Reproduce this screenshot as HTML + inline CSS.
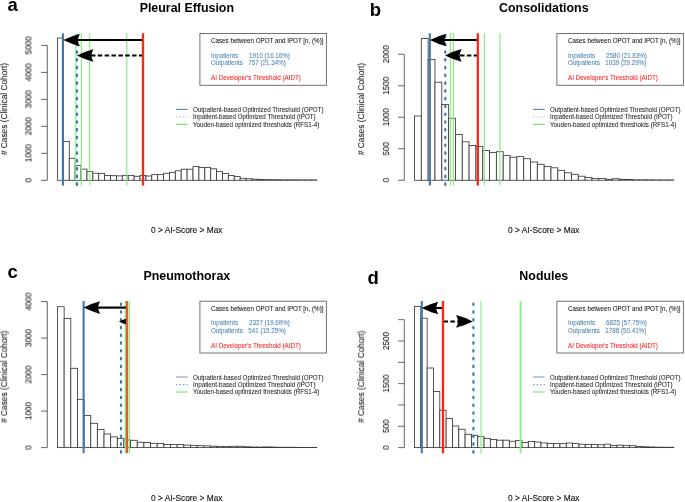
<!DOCTYPE html>
<html><head><meta charset="utf-8"><style>
html,body{margin:0;padding:0;background:#fff;}
body{width:685px;height:502px;overflow:hidden;}
svg{display:block;font-family:"Liberation Sans", sans-serif;filter:blur(0.4px);}
text{will-change:transform;}
</style></head><body>
<svg width="685" height="502" viewBox="0 0 685 502">
<rect x="0" y="0" width="685" height="502" fill="#fff"/>
<text transform="translate(7.40 10.70)" font-size="18.5" text-anchor="start" font-weight="bold" fill="#000">a</text>
<text transform="translate(186.80 11.90)" font-size="12.4" text-anchor="middle" font-weight="bold" fill="#000">Pleural Effusion</text>
<text transform="translate(186.80 233.20)" font-size="8.35" text-anchor="middle" font-weight="normal" fill="#111" stroke="#111" stroke-width="0.12">0 &gt; AI-Score &gt; Max</text>
<text transform="translate(7.50 109.00) rotate(-90) scale(1 1.05)" font-size="8.3" text-anchor="middle" font-weight="normal" fill="#111" stroke="#111" stroke-width="0.05"># Cases (Clinical Cohort)</text>
<line x1="47.3" y1="180.3" x2="47.3" y2="45.40" stroke="#555" stroke-width="0.9"/>
<line x1="41.10" y1="180.30" x2="47.3" y2="180.30" stroke="#555" stroke-width="0.9"/>
<line x1="41.10" y1="153.32" x2="47.3" y2="153.32" stroke="#555" stroke-width="0.9"/>
<line x1="41.10" y1="126.34" x2="47.3" y2="126.34" stroke="#555" stroke-width="0.9"/>
<line x1="41.10" y1="99.36" x2="47.3" y2="99.36" stroke="#555" stroke-width="0.9"/>
<line x1="41.10" y1="72.38" x2="47.3" y2="72.38" stroke="#555" stroke-width="0.9"/>
<line x1="41.10" y1="45.40" x2="47.3" y2="45.40" stroke="#555" stroke-width="0.9"/>
<text transform="translate(31.80 180.30) rotate(-90) scale(1 1.05)" font-size="8.2" text-anchor="middle" font-weight="normal" fill="#111" stroke="#111" stroke-width="0.05">0</text>
<text transform="translate(31.80 153.32) rotate(-90) scale(1 1.05)" font-size="8.2" text-anchor="middle" font-weight="normal" fill="#111" stroke="#111" stroke-width="0.05">1000</text>
<text transform="translate(31.80 126.34) rotate(-90) scale(1 1.05)" font-size="8.2" text-anchor="middle" font-weight="normal" fill="#111" stroke="#111" stroke-width="0.05">2000</text>
<text transform="translate(31.80 99.36) rotate(-90) scale(1 1.05)" font-size="8.2" text-anchor="middle" font-weight="normal" fill="#111" stroke="#111" stroke-width="0.05">3000</text>
<text transform="translate(31.80 72.38) rotate(-90) scale(1 1.05)" font-size="8.2" text-anchor="middle" font-weight="normal" fill="#111" stroke="#111" stroke-width="0.05">4000</text>
<text transform="translate(31.80 45.40) rotate(-90) scale(1 1.05)" font-size="8.2" text-anchor="middle" font-weight="normal" fill="#111" stroke="#111" stroke-width="0.05">5000</text>
<rect x="57.50" y="38.00" width="5.89" height="142.30" fill="#fff" stroke="#3a3a3a" stroke-width="0.85"/>
<rect x="63.39" y="141.40" width="5.89" height="38.90" fill="#fff" stroke="#3a3a3a" stroke-width="0.85"/>
<rect x="69.28" y="158.30" width="5.89" height="22.00" fill="#fff" stroke="#3a3a3a" stroke-width="0.85"/>
<rect x="75.18" y="165.60" width="5.89" height="14.70" fill="#fff" stroke="#3a3a3a" stroke-width="0.85"/>
<rect x="81.07" y="169.10" width="5.89" height="11.20" fill="#fff" stroke="#3a3a3a" stroke-width="0.85"/>
<rect x="86.96" y="171.60" width="5.89" height="8.70" fill="#fff" stroke="#3a3a3a" stroke-width="0.85"/>
<rect x="92.85" y="173.20" width="5.89" height="7.10" fill="#fff" stroke="#3a3a3a" stroke-width="0.85"/>
<rect x="98.74" y="173.40" width="5.89" height="6.90" fill="#fff" stroke="#3a3a3a" stroke-width="0.85"/>
<rect x="104.64" y="175.50" width="5.89" height="4.80" fill="#fff" stroke="#3a3a3a" stroke-width="0.85"/>
<rect x="110.53" y="175.70" width="5.89" height="4.60" fill="#fff" stroke="#3a3a3a" stroke-width="0.85"/>
<rect x="116.42" y="175.90" width="5.89" height="4.40" fill="#fff" stroke="#3a3a3a" stroke-width="0.85"/>
<rect x="122.31" y="175.60" width="5.89" height="4.70" fill="#fff" stroke="#3a3a3a" stroke-width="0.85"/>
<rect x="128.20" y="175.40" width="5.89" height="4.90" fill="#fff" stroke="#3a3a3a" stroke-width="0.85"/>
<rect x="134.10" y="176.30" width="5.89" height="4.00" fill="#fff" stroke="#3a3a3a" stroke-width="0.85"/>
<rect x="139.99" y="175.40" width="5.89" height="4.90" fill="#fff" stroke="#3a3a3a" stroke-width="0.85"/>
<rect x="145.88" y="176.00" width="5.89" height="4.30" fill="#fff" stroke="#3a3a3a" stroke-width="0.85"/>
<rect x="151.77" y="174.60" width="5.89" height="5.70" fill="#fff" stroke="#3a3a3a" stroke-width="0.85"/>
<rect x="157.66" y="174.60" width="5.89" height="5.70" fill="#fff" stroke="#3a3a3a" stroke-width="0.85"/>
<rect x="163.56" y="173.30" width="5.89" height="7.00" fill="#fff" stroke="#3a3a3a" stroke-width="0.85"/>
<rect x="169.45" y="172.30" width="5.89" height="8.00" fill="#fff" stroke="#3a3a3a" stroke-width="0.85"/>
<rect x="175.34" y="170.80" width="5.89" height="9.50" fill="#fff" stroke="#3a3a3a" stroke-width="0.85"/>
<rect x="181.23" y="169.20" width="5.89" height="11.10" fill="#fff" stroke="#3a3a3a" stroke-width="0.85"/>
<rect x="187.12" y="169.20" width="5.89" height="11.10" fill="#fff" stroke="#3a3a3a" stroke-width="0.85"/>
<rect x="193.02" y="166.50" width="5.89" height="13.80" fill="#fff" stroke="#3a3a3a" stroke-width="0.85"/>
<rect x="198.91" y="167.40" width="5.89" height="12.90" fill="#fff" stroke="#3a3a3a" stroke-width="0.85"/>
<rect x="204.80" y="167.40" width="5.89" height="12.90" fill="#fff" stroke="#3a3a3a" stroke-width="0.85"/>
<rect x="210.69" y="168.80" width="5.89" height="11.50" fill="#fff" stroke="#3a3a3a" stroke-width="0.85"/>
<rect x="216.58" y="171.50" width="5.89" height="8.80" fill="#fff" stroke="#3a3a3a" stroke-width="0.85"/>
<rect x="222.48" y="173.50" width="5.89" height="6.80" fill="#fff" stroke="#3a3a3a" stroke-width="0.85"/>
<rect x="228.37" y="175.50" width="5.89" height="4.80" fill="#fff" stroke="#3a3a3a" stroke-width="0.85"/>
<rect x="234.26" y="176.50" width="5.89" height="3.80" fill="#fff" stroke="#3a3a3a" stroke-width="0.85"/>
<rect x="240.15" y="178.30" width="5.89" height="2.00" fill="#fff" stroke="#3a3a3a" stroke-width="0.85"/>
<rect x="246.04" y="178.70" width="5.89" height="1.60" fill="#fff" stroke="#3a3a3a" stroke-width="0.85"/>
<rect x="251.94" y="179.20" width="5.89" height="1.10" fill="#fff" stroke="#3a3a3a" stroke-width="0.85"/>
<rect x="257.83" y="179.40" width="5.89" height="0.90" fill="#fff" stroke="#3a3a3a" stroke-width="0.85"/>
<rect x="263.72" y="179.60" width="5.89" height="0.70" fill="#fff" stroke="#3a3a3a" stroke-width="0.85"/>
<rect x="269.61" y="179.70" width="5.89" height="0.60" fill="#fff" stroke="#3a3a3a" stroke-width="0.85"/>
<rect x="275.50" y="179.70" width="5.89" height="0.60" fill="#fff" stroke="#3a3a3a" stroke-width="0.85"/>
<rect x="281.40" y="179.80" width="5.89" height="0.50" fill="#fff" stroke="#3a3a3a" stroke-width="0.85"/>
<rect x="287.29" y="179.80" width="5.89" height="0.50" fill="#fff" stroke="#3a3a3a" stroke-width="0.85"/>
<rect x="293.18" y="179.80" width="5.89" height="0.50" fill="#fff" stroke="#3a3a3a" stroke-width="0.85"/>
<rect x="299.07" y="179.90" width="5.89" height="0.40" fill="#fff" stroke="#3a3a3a" stroke-width="0.85"/>
<rect x="304.96" y="179.90" width="5.89" height="0.40" fill="#fff" stroke="#3a3a3a" stroke-width="0.85"/>
<rect x="310.86" y="179.90" width="5.89" height="0.40" fill="#fff" stroke="#3a3a3a" stroke-width="0.85"/>
<line x1="75.8" y1="33.3" x2="75.8" y2="185.5" stroke="#8cec84" stroke-width="1.2"/>
<line x1="81.4" y1="33.3" x2="81.4" y2="185.5" stroke="#8cec84" stroke-width="1.2"/>
<line x1="89.7" y1="33.3" x2="89.7" y2="185.5" stroke="#8cec84" stroke-width="1.2"/>
<line x1="126.8" y1="33.3" x2="126.8" y2="185.5" stroke="#8cec84" stroke-width="1.2"/>
<line x1="62.9" y1="33.3" x2="62.9" y2="185.5" stroke="#3f79ab" stroke-width="2.1"/>
<line x1="77.0" y1="33.3" x2="77.0" y2="185.5" stroke="#3f79ab" stroke-width="2.2" stroke-linecap="round" stroke-dasharray="1.5 6.27" stroke-dashoffset="5.27"/>
<line x1="143.0" y1="40.0" x2="76.90" y2="40.0" stroke="#000" stroke-width="2.2"/>
<path d="M63.30,40.00 Q71.60,35.84 79.90,33.70 Q78.00,37.35 77.90,40.00 Q78.00,42.65 79.90,46.30 Q71.60,44.16 63.30,40.00 Z" fill="#000"/>
<line x1="143.4" y1="55.45" x2="90.40" y2="55.45" stroke="#000" stroke-width="2.0" stroke-dasharray="4.5 2.35"/>
<path d="M76.80,55.45 Q85.10,51.29 93.40,49.15 Q91.50,52.80 91.40,55.45 Q91.50,58.10 93.40,61.75 Q85.10,59.61 76.80,55.45 Z" fill="#000"/>
<line x1="143.0" y1="33.3" x2="143.0" y2="185.5" stroke="#ff2412" stroke-width="2.3"/>
<rect x="199.9" y="33.5" width="126.50" height="51.80" fill="#fff" stroke="#6a6a6a" stroke-width="0.95"/>
<text transform="translate(211.00 42.80) scale(1 1.13)" font-size="6.26" text-anchor="start" font-weight="normal" fill="#111" stroke="#111" stroke-width="0.05">Cases between OPOT and IPOT [n, (%)]</text>
<text transform="translate(211.00 57.60) scale(1 1.13)" font-size="6.26" text-anchor="start" font-weight="normal" fill="#4a82b4" stroke="#4a82b4" stroke-width="0.05">Inpatients</text>
<text transform="translate(249.00 57.60) scale(1 1.13)" font-size="6.26" text-anchor="start" font-weight="normal" fill="#4a82b4" stroke="#4a82b4" stroke-width="0.05">1910 (16.16%)</text>
<text transform="translate(211.00 65.00) scale(1 1.13)" font-size="6.26" text-anchor="start" font-weight="normal" fill="#4a82b4" stroke="#4a82b4" stroke-width="0.05">Outpatients</text>
<text transform="translate(248.30 65.00) scale(1 1.13)" font-size="6.26" text-anchor="start" font-weight="normal" fill="#4a82b4" stroke="#4a82b4" stroke-width="0.05">757 (21.34%)</text>
<text transform="translate(211.00 80.10) scale(1 1.13)" font-size="6.26" text-anchor="start" font-weight="normal" fill="#ff1a1a" stroke="#ff1a1a" stroke-width="0.05">AI Developer's Threshold (AIDT)</text>
<line x1="175.9" y1="109.4" x2="187.7" y2="109.4" stroke="#6090c0" stroke-width="1.2"/>
<line x1="175.9" y1="116.9" x2="187.7" y2="116.9" stroke="#a2c2de" stroke-width="1.1" stroke-dasharray="1.2 2.3" stroke-dashoffset="-0.3"/>
<line x1="175.9" y1="124.3" x2="187.7" y2="124.3" stroke="#74e464" stroke-width="1.2"/>
<text transform="translate(193.00 111.80) scale(1 1.13)" font-size="6.26" text-anchor="start" font-weight="normal" fill="#222" stroke="#222" stroke-width="0.05">Outpatient-based Optimized Threshold (OPOT)</text>
<text transform="translate(193.00 119.20) scale(1 1.13)" font-size="6.26" text-anchor="start" font-weight="normal" fill="#222" stroke="#222" stroke-width="0.05">Inpatient-based Optimized Threshold (IPOT)</text>
<text transform="translate(193.00 126.70) scale(1 1.13)" font-size="6.26" text-anchor="start" font-weight="normal" fill="#222" stroke="#222" stroke-width="0.05">Youden-based optimized thresholds (RFS1-4)</text>
<text transform="translate(369.80 16.00)" font-size="18.5" text-anchor="start" font-weight="bold" fill="#000">b</text>
<text transform="translate(543.80 11.90)" font-size="12.4" text-anchor="middle" font-weight="bold" fill="#000">Consolidations</text>
<text transform="translate(543.80 233.20)" font-size="8.35" text-anchor="middle" font-weight="normal" fill="#111" stroke="#111" stroke-width="0.12">0 &gt; AI-Score &gt; Max</text>
<text transform="translate(364.50 109.00) rotate(-90) scale(1 1.05)" font-size="8.3" text-anchor="middle" font-weight="normal" fill="#111" stroke="#111" stroke-width="0.05"># Cases (Clinical Cohort)</text>
<line x1="404.3" y1="180.25" x2="404.3" y2="54.25" stroke="#555" stroke-width="0.9"/>
<line x1="398.10" y1="180.25" x2="404.3" y2="180.25" stroke="#555" stroke-width="0.9"/>
<line x1="398.10" y1="148.75" x2="404.3" y2="148.75" stroke="#555" stroke-width="0.9"/>
<line x1="398.10" y1="117.25" x2="404.3" y2="117.25" stroke="#555" stroke-width="0.9"/>
<line x1="398.10" y1="85.75" x2="404.3" y2="85.75" stroke="#555" stroke-width="0.9"/>
<line x1="398.10" y1="54.25" x2="404.3" y2="54.25" stroke="#555" stroke-width="0.9"/>
<text transform="translate(389.40 180.25) rotate(-90) scale(1 1.05)" font-size="8.2" text-anchor="middle" font-weight="normal" fill="#111" stroke="#111" stroke-width="0.05">0</text>
<text transform="translate(389.40 148.75) rotate(-90) scale(1 1.05)" font-size="8.2" text-anchor="middle" font-weight="normal" fill="#111" stroke="#111" stroke-width="0.05">500</text>
<text transform="translate(389.40 117.25) rotate(-90) scale(1 1.05)" font-size="8.2" text-anchor="middle" font-weight="normal" fill="#111" stroke="#111" stroke-width="0.05">1000</text>
<text transform="translate(389.40 85.75) rotate(-90) scale(1 1.05)" font-size="8.2" text-anchor="middle" font-weight="normal" fill="#111" stroke="#111" stroke-width="0.05">1500</text>
<text transform="translate(389.40 54.25) rotate(-90) scale(1 1.05)" font-size="8.2" text-anchor="middle" font-weight="normal" fill="#111" stroke="#111" stroke-width="0.05">2000</text>
<rect x="414.50" y="116.00" width="6.82" height="64.25" fill="#fff" stroke="#3a3a3a" stroke-width="0.85"/>
<rect x="421.32" y="38.50" width="6.82" height="141.75" fill="#fff" stroke="#3a3a3a" stroke-width="0.85"/>
<rect x="428.15" y="59.40" width="6.82" height="120.85" fill="#fff" stroke="#3a3a3a" stroke-width="0.85"/>
<rect x="434.97" y="82.20" width="6.82" height="98.05" fill="#fff" stroke="#3a3a3a" stroke-width="0.85"/>
<rect x="441.80" y="104.50" width="6.82" height="75.75" fill="#fff" stroke="#3a3a3a" stroke-width="0.85"/>
<rect x="448.62" y="118.30" width="6.82" height="61.95" fill="#fff" stroke="#3a3a3a" stroke-width="0.85"/>
<rect x="455.44" y="134.40" width="6.82" height="45.85" fill="#fff" stroke="#3a3a3a" stroke-width="0.85"/>
<rect x="462.27" y="141.80" width="6.82" height="38.45" fill="#fff" stroke="#3a3a3a" stroke-width="0.85"/>
<rect x="469.09" y="145.50" width="6.82" height="34.75" fill="#fff" stroke="#3a3a3a" stroke-width="0.85"/>
<rect x="475.92" y="146.40" width="6.82" height="33.85" fill="#fff" stroke="#3a3a3a" stroke-width="0.85"/>
<rect x="482.74" y="150.50" width="6.82" height="29.75" fill="#fff" stroke="#3a3a3a" stroke-width="0.85"/>
<rect x="489.56" y="152.40" width="6.82" height="27.85" fill="#fff" stroke="#3a3a3a" stroke-width="0.85"/>
<rect x="496.39" y="151.70" width="6.82" height="28.55" fill="#fff" stroke="#3a3a3a" stroke-width="0.85"/>
<rect x="503.21" y="155.40" width="6.82" height="24.85" fill="#fff" stroke="#3a3a3a" stroke-width="0.85"/>
<rect x="510.04" y="157.20" width="6.82" height="23.05" fill="#fff" stroke="#3a3a3a" stroke-width="0.85"/>
<rect x="516.86" y="156.60" width="6.82" height="23.65" fill="#fff" stroke="#3a3a3a" stroke-width="0.85"/>
<rect x="523.68" y="158.70" width="6.82" height="21.55" fill="#fff" stroke="#3a3a3a" stroke-width="0.85"/>
<rect x="530.51" y="162.00" width="6.82" height="18.25" fill="#fff" stroke="#3a3a3a" stroke-width="0.85"/>
<rect x="537.33" y="164.30" width="6.82" height="15.95" fill="#fff" stroke="#3a3a3a" stroke-width="0.85"/>
<rect x="544.16" y="166.40" width="6.82" height="13.85" fill="#fff" stroke="#3a3a3a" stroke-width="0.85"/>
<rect x="550.98" y="167.80" width="6.82" height="12.45" fill="#fff" stroke="#3a3a3a" stroke-width="0.85"/>
<rect x="557.80" y="170.30" width="6.82" height="9.95" fill="#fff" stroke="#3a3a3a" stroke-width="0.85"/>
<rect x="564.63" y="172.80" width="6.82" height="7.45" fill="#fff" stroke="#3a3a3a" stroke-width="0.85"/>
<rect x="571.45" y="174.30" width="6.82" height="5.95" fill="#fff" stroke="#3a3a3a" stroke-width="0.85"/>
<rect x="578.28" y="176.20" width="6.82" height="4.05" fill="#fff" stroke="#3a3a3a" stroke-width="0.85"/>
<rect x="585.10" y="177.40" width="6.82" height="2.85" fill="#fff" stroke="#3a3a3a" stroke-width="0.85"/>
<rect x="591.92" y="178.40" width="6.82" height="1.85" fill="#fff" stroke="#3a3a3a" stroke-width="0.85"/>
<rect x="598.75" y="178.40" width="6.82" height="1.85" fill="#fff" stroke="#3a3a3a" stroke-width="0.85"/>
<rect x="605.57" y="179.30" width="6.82" height="0.95" fill="#fff" stroke="#3a3a3a" stroke-width="0.85"/>
<rect x="612.40" y="178.70" width="6.82" height="1.55" fill="#fff" stroke="#3a3a3a" stroke-width="0.85"/>
<rect x="619.22" y="179.30" width="6.82" height="0.95" fill="#fff" stroke="#3a3a3a" stroke-width="0.85"/>
<rect x="626.04" y="179.50" width="6.82" height="0.75" fill="#fff" stroke="#3a3a3a" stroke-width="0.85"/>
<rect x="632.87" y="179.80" width="6.82" height="0.45" fill="#fff" stroke="#3a3a3a" stroke-width="0.85"/>
<rect x="639.69" y="179.80" width="6.82" height="0.45" fill="#fff" stroke="#3a3a3a" stroke-width="0.85"/>
<rect x="646.52" y="179.80" width="6.82" height="0.45" fill="#fff" stroke="#3a3a3a" stroke-width="0.85"/>
<rect x="653.34" y="179.90" width="6.82" height="0.35" fill="#fff" stroke="#3a3a3a" stroke-width="0.85"/>
<rect x="660.16" y="179.90" width="6.82" height="0.35" fill="#fff" stroke="#3a3a3a" stroke-width="0.85"/>
<rect x="666.99" y="179.90" width="6.82" height="0.35" fill="#fff" stroke="#3a3a3a" stroke-width="0.85"/>
<line x1="450.3" y1="33.3" x2="450.3" y2="185.5" stroke="#8cec84" stroke-width="1.2"/>
<line x1="453.4" y1="33.3" x2="453.4" y2="185.5" stroke="#8cec84" stroke-width="1.2"/>
<line x1="484.4" y1="33.3" x2="484.4" y2="185.5" stroke="#8cec84" stroke-width="1.2"/>
<line x1="499.9" y1="33.3" x2="499.9" y2="185.5" stroke="#8cec84" stroke-width="1.2"/>
<line x1="429.8" y1="33.3" x2="429.8" y2="185.5" stroke="#3f79ab" stroke-width="2.1"/>
<line x1="445.3" y1="33.3" x2="445.3" y2="185.5" stroke="#3f79ab" stroke-width="2.2" stroke-linecap="round" stroke-dasharray="1.5 6.27" stroke-dashoffset="5.27"/>
<line x1="477.8" y1="40.0" x2="443.40" y2="40.0" stroke="#000" stroke-width="2.2"/>
<path d="M429.80,40.00 Q438.10,35.84 446.40,33.70 Q444.50,37.35 444.40,40.00 Q444.50,42.65 446.40,46.30 Q438.10,44.16 429.80,40.00 Z" fill="#000"/>
<line x1="478.2" y1="55.4" x2="458.60" y2="55.4" stroke="#000" stroke-width="2.0" stroke-dasharray="4.5 2.35"/>
<path d="M445.00,55.40 Q453.30,51.24 461.60,49.10 Q459.70,52.75 459.60,55.40 Q459.70,58.05 461.60,61.70 Q453.30,59.56 445.00,55.40 Z" fill="#000"/>
<line x1="477.8" y1="33.3" x2="477.8" y2="185.5" stroke="#ff2412" stroke-width="2.3"/>
<rect x="556.9" y="33.5" width="126.50" height="51.80" fill="#fff" stroke="#6a6a6a" stroke-width="0.95"/>
<text transform="translate(568.00 42.80) scale(1 1.13)" font-size="6.26" text-anchor="start" font-weight="normal" fill="#111" stroke="#111" stroke-width="0.05">Cases between OPOT and IPOT [n, (%)]</text>
<text transform="translate(568.00 57.60) scale(1 1.13)" font-size="6.26" text-anchor="start" font-weight="normal" fill="#4a82b4" stroke="#4a82b4" stroke-width="0.05">Inpatients</text>
<text transform="translate(606.00 57.60) scale(1 1.13)" font-size="6.26" text-anchor="start" font-weight="normal" fill="#4a82b4" stroke="#4a82b4" stroke-width="0.05">2580 (21.83%)</text>
<text transform="translate(568.00 65.00) scale(1 1.13)" font-size="6.26" text-anchor="start" font-weight="normal" fill="#4a82b4" stroke="#4a82b4" stroke-width="0.05">Outpatients</text>
<text transform="translate(605.30 65.00) scale(1 1.13)" font-size="6.26" text-anchor="start" font-weight="normal" fill="#4a82b4" stroke="#4a82b4" stroke-width="0.05">1039 (29.29%)</text>
<text transform="translate(568.00 80.10) scale(1 1.13)" font-size="6.26" text-anchor="start" font-weight="normal" fill="#ff1a1a" stroke="#ff1a1a" stroke-width="0.05">AI Developer's Threshold (AIDT)</text>
<line x1="532.9" y1="109.4" x2="544.7" y2="109.4" stroke="#6090c0" stroke-width="1.2"/>
<line x1="532.9" y1="116.9" x2="544.7" y2="116.9" stroke="#a2c2de" stroke-width="1.1" stroke-dasharray="1.2 2.3" stroke-dashoffset="-0.3"/>
<line x1="532.9" y1="124.3" x2="544.7" y2="124.3" stroke="#74e464" stroke-width="1.2"/>
<text transform="translate(550.00 111.80) scale(1 1.13)" font-size="6.26" text-anchor="start" font-weight="normal" fill="#222" stroke="#222" stroke-width="0.05">Outpatient-based Optimized Threshold (OPOT)</text>
<text transform="translate(550.00 119.20) scale(1 1.13)" font-size="6.26" text-anchor="start" font-weight="normal" fill="#222" stroke="#222" stroke-width="0.05">Inpatient-based Optimized Threshold (IPOT)</text>
<text transform="translate(550.00 126.70) scale(1 1.13)" font-size="6.26" text-anchor="start" font-weight="normal" fill="#222" stroke="#222" stroke-width="0.05">Youden-based optimized thresholds (RFS1-4)</text>
<text transform="translate(7.40 278.40)" font-size="18.5" text-anchor="start" font-weight="bold" fill="#000">c</text>
<text transform="translate(186.80 279.60)" font-size="12.4" text-anchor="middle" font-weight="bold" fill="#000">Pneumothorax</text>
<text transform="translate(186.80 500.90)" font-size="8.35" text-anchor="middle" font-weight="normal" fill="#111" stroke="#111" stroke-width="0.12">0 &gt; AI-Score &gt; Max</text>
<text transform="translate(7.50 376.70) rotate(-90) scale(1 1.05)" font-size="8.3" text-anchor="middle" font-weight="normal" fill="#111" stroke="#111" stroke-width="0.05"># Cases (Clinical Cohort)</text>
<line x1="47.3" y1="447.6" x2="47.3" y2="301.60" stroke="#555" stroke-width="0.9"/>
<line x1="41.10" y1="447.60" x2="47.3" y2="447.60" stroke="#555" stroke-width="0.9"/>
<line x1="41.10" y1="411.10" x2="47.3" y2="411.10" stroke="#555" stroke-width="0.9"/>
<line x1="41.10" y1="374.60" x2="47.3" y2="374.60" stroke="#555" stroke-width="0.9"/>
<line x1="41.10" y1="338.10" x2="47.3" y2="338.10" stroke="#555" stroke-width="0.9"/>
<line x1="41.10" y1="301.60" x2="47.3" y2="301.60" stroke="#555" stroke-width="0.9"/>
<text transform="translate(31.80 447.60) rotate(-90) scale(1 1.05)" font-size="8.2" text-anchor="middle" font-weight="normal" fill="#111" stroke="#111" stroke-width="0.05">0</text>
<text transform="translate(31.80 411.10) rotate(-90) scale(1 1.05)" font-size="8.2" text-anchor="middle" font-weight="normal" fill="#111" stroke="#111" stroke-width="0.05">1000</text>
<text transform="translate(31.80 374.60) rotate(-90) scale(1 1.05)" font-size="8.2" text-anchor="middle" font-weight="normal" fill="#111" stroke="#111" stroke-width="0.05">2000</text>
<text transform="translate(31.80 338.10) rotate(-90) scale(1 1.05)" font-size="8.2" text-anchor="middle" font-weight="normal" fill="#111" stroke="#111" stroke-width="0.05">3000</text>
<text transform="translate(31.80 301.60) rotate(-90) scale(1 1.05)" font-size="8.2" text-anchor="middle" font-weight="normal" fill="#111" stroke="#111" stroke-width="0.05">4000</text>
<rect x="57.50" y="306.70" width="6.65" height="140.90" fill="#fff" stroke="#3a3a3a" stroke-width="0.85"/>
<rect x="64.15" y="318.50" width="6.65" height="129.10" fill="#fff" stroke="#3a3a3a" stroke-width="0.85"/>
<rect x="70.79" y="368.30" width="6.65" height="79.30" fill="#fff" stroke="#3a3a3a" stroke-width="0.85"/>
<rect x="77.44" y="399.30" width="6.65" height="48.30" fill="#fff" stroke="#3a3a3a" stroke-width="0.85"/>
<rect x="84.09" y="415.40" width="6.65" height="32.20" fill="#fff" stroke="#3a3a3a" stroke-width="0.85"/>
<rect x="90.73" y="423.30" width="6.65" height="24.30" fill="#fff" stroke="#3a3a3a" stroke-width="0.85"/>
<rect x="97.38" y="429.50" width="6.65" height="18.10" fill="#fff" stroke="#3a3a3a" stroke-width="0.85"/>
<rect x="104.03" y="434.00" width="6.65" height="13.60" fill="#fff" stroke="#3a3a3a" stroke-width="0.85"/>
<rect x="110.68" y="436.90" width="6.65" height="10.70" fill="#fff" stroke="#3a3a3a" stroke-width="0.85"/>
<rect x="117.32" y="438.40" width="6.65" height="9.20" fill="#fff" stroke="#3a3a3a" stroke-width="0.85"/>
<rect x="123.97" y="440.00" width="6.65" height="7.60" fill="#fff" stroke="#3a3a3a" stroke-width="0.85"/>
<rect x="130.62" y="440.30" width="6.65" height="7.30" fill="#fff" stroke="#3a3a3a" stroke-width="0.85"/>
<rect x="137.26" y="442.30" width="6.65" height="5.30" fill="#fff" stroke="#3a3a3a" stroke-width="0.85"/>
<rect x="143.91" y="442.50" width="6.65" height="5.10" fill="#fff" stroke="#3a3a3a" stroke-width="0.85"/>
<rect x="150.56" y="443.30" width="6.65" height="4.30" fill="#fff" stroke="#3a3a3a" stroke-width="0.85"/>
<rect x="157.20" y="443.50" width="6.65" height="4.10" fill="#fff" stroke="#3a3a3a" stroke-width="0.85"/>
<rect x="163.85" y="444.50" width="6.65" height="3.10" fill="#fff" stroke="#3a3a3a" stroke-width="0.85"/>
<rect x="170.50" y="444.50" width="6.65" height="3.10" fill="#fff" stroke="#3a3a3a" stroke-width="0.85"/>
<rect x="177.15" y="444.60" width="6.65" height="3.00" fill="#fff" stroke="#3a3a3a" stroke-width="0.85"/>
<rect x="183.79" y="445.10" width="6.65" height="2.50" fill="#fff" stroke="#3a3a3a" stroke-width="0.85"/>
<rect x="190.44" y="445.40" width="6.65" height="2.20" fill="#fff" stroke="#3a3a3a" stroke-width="0.85"/>
<rect x="197.09" y="445.70" width="6.65" height="1.90" fill="#fff" stroke="#3a3a3a" stroke-width="0.85"/>
<rect x="203.73" y="445.90" width="6.65" height="1.70" fill="#fff" stroke="#3a3a3a" stroke-width="0.85"/>
<rect x="210.38" y="446.20" width="6.65" height="1.40" fill="#fff" stroke="#3a3a3a" stroke-width="0.85"/>
<rect x="217.03" y="446.40" width="6.65" height="1.20" fill="#fff" stroke="#3a3a3a" stroke-width="0.85"/>
<rect x="223.68" y="446.60" width="6.65" height="1.00" fill="#fff" stroke="#3a3a3a" stroke-width="0.85"/>
<rect x="230.32" y="446.30" width="6.65" height="1.30" fill="#fff" stroke="#3a3a3a" stroke-width="0.85"/>
<rect x="236.97" y="446.30" width="6.65" height="1.30" fill="#fff" stroke="#3a3a3a" stroke-width="0.85"/>
<rect x="243.62" y="446.80" width="6.65" height="0.80" fill="#fff" stroke="#3a3a3a" stroke-width="0.85"/>
<rect x="250.26" y="447.00" width="6.65" height="0.60" fill="#fff" stroke="#3a3a3a" stroke-width="0.85"/>
<rect x="256.91" y="447.10" width="6.65" height="0.50" fill="#fff" stroke="#3a3a3a" stroke-width="0.85"/>
<rect x="263.56" y="446.90" width="6.65" height="0.70" fill="#fff" stroke="#3a3a3a" stroke-width="0.85"/>
<rect x="270.20" y="447.10" width="6.65" height="0.50" fill="#fff" stroke="#3a3a3a" stroke-width="0.85"/>
<rect x="276.85" y="447.30" width="6.65" height="0.30" fill="#fff" stroke="#3a3a3a" stroke-width="0.85"/>
<rect x="283.50" y="447.30" width="6.65" height="0.30" fill="#fff" stroke="#3a3a3a" stroke-width="0.85"/>
<rect x="290.14" y="447.30" width="6.65" height="0.30" fill="#fff" stroke="#3a3a3a" stroke-width="0.85"/>
<rect x="296.79" y="447.40" width="6.65" height="0.20" fill="#fff" stroke="#3a3a3a" stroke-width="0.85"/>
<rect x="303.44" y="447.40" width="6.65" height="0.20" fill="#fff" stroke="#3a3a3a" stroke-width="0.85"/>
<rect x="310.09" y="447.40" width="6.65" height="0.20" fill="#fff" stroke="#3a3a3a" stroke-width="0.85"/>
<line x1="125.3" y1="301.0" x2="125.3" y2="453.2" stroke="#8cec84" stroke-width="1.2"/>
<line x1="129.4" y1="301.0" x2="129.4" y2="453.2" stroke="#8cec84" stroke-width="1.2"/>
<line x1="83.6" y1="301.0" x2="83.6" y2="453.2" stroke="#3f79ab" stroke-width="2.1"/>
<line x1="121.0" y1="301.0" x2="121.0" y2="453.2" stroke="#3f79ab" stroke-width="2.2" stroke-linecap="round" stroke-dasharray="1.5 6.27" stroke-dashoffset="5.27"/>
<line x1="127.0" y1="307.6" x2="97.10" y2="307.6" stroke="#000" stroke-width="2.2"/>
<path d="M83.50,307.60 Q91.80,303.44 100.10,301.30 Q98.20,304.95 98.10,307.60 Q98.20,310.25 100.10,313.90 Q91.80,311.76 83.50,307.60 Z" fill="#000"/>
<path d="M118.90,321.50 Q123.10,319.32 127.30,318.20 Q126.10,320.11 126.00,321.50 Q126.10,322.89 127.30,324.80 Q123.10,323.68 118.90,321.50 Z" fill="#000"/>
<line x1="127.0" y1="301.0" x2="127.0" y2="453.2" stroke="#f0522a" stroke-width="2.3"/>
<rect x="199.9" y="301.2" width="126.50" height="51.80" fill="#fff" stroke="#6a6a6a" stroke-width="0.95"/>
<text transform="translate(211.00 310.50) scale(1 1.13)" font-size="6.26" text-anchor="start" font-weight="normal" fill="#111" stroke="#111" stroke-width="0.05">Cases between OPOT and IPOT [n, (%)]</text>
<text transform="translate(211.00 325.30) scale(1 1.13)" font-size="6.26" text-anchor="start" font-weight="normal" fill="#4a82b4" stroke="#4a82b4" stroke-width="0.05">Inpatients</text>
<text transform="translate(249.00 325.30) scale(1 1.13)" font-size="6.26" text-anchor="start" font-weight="normal" fill="#4a82b4" stroke="#4a82b4" stroke-width="0.05">2327 (19.69%)</text>
<text transform="translate(211.00 332.70) scale(1 1.13)" font-size="6.26" text-anchor="start" font-weight="normal" fill="#4a82b4" stroke="#4a82b4" stroke-width="0.05">Outpatients</text>
<text transform="translate(248.30 332.70) scale(1 1.13)" font-size="6.26" text-anchor="start" font-weight="normal" fill="#4a82b4" stroke="#4a82b4" stroke-width="0.05">541 (15.25%)</text>
<text transform="translate(211.00 347.80) scale(1 1.13)" font-size="6.26" text-anchor="start" font-weight="normal" fill="#ff1a1a" stroke="#ff1a1a" stroke-width="0.05">AI Developer's Threshold (AIDT)</text>
<line x1="175.9" y1="377.1" x2="187.7" y2="377.1" stroke="#b2c8dd" stroke-width="1.9"/>
<line x1="175.9" y1="384.6" x2="187.7" y2="384.6" stroke="#5a8cbc" stroke-width="1.1" stroke-dasharray="1.2 2.3" stroke-dashoffset="-0.3"/>
<line x1="175.9" y1="392.0" x2="187.7" y2="392.0" stroke="#b0f0a6" stroke-width="1.9"/>
<text transform="translate(193.00 379.50) scale(1 1.13)" font-size="6.26" text-anchor="start" font-weight="normal" fill="#222" stroke="#222" stroke-width="0.05">Outpatient-based Optimized Threshold (OPOT)</text>
<text transform="translate(193.00 386.90) scale(1 1.13)" font-size="6.26" text-anchor="start" font-weight="normal" fill="#222" stroke="#222" stroke-width="0.05">Inpatient-based Optimized Threshold (IPOT)</text>
<text transform="translate(193.00 394.40) scale(1 1.13)" font-size="6.26" text-anchor="start" font-weight="normal" fill="#222" stroke="#222" stroke-width="0.05">Youden-based optimized thresholds (RFS1-4)</text>
<text transform="translate(367.60 283.80)" font-size="18.5" text-anchor="start" font-weight="bold" fill="#000">d</text>
<text transform="translate(543.80 279.60)" font-size="12.4" text-anchor="middle" font-weight="bold" fill="#000">Nodules</text>
<text transform="translate(543.80 500.90)" font-size="8.35" text-anchor="middle" font-weight="normal" fill="#111" stroke="#111" stroke-width="0.12">0 &gt; AI-Score &gt; Max</text>
<text transform="translate(364.50 376.70) rotate(-90) scale(1 1.05)" font-size="8.3" text-anchor="middle" font-weight="normal" fill="#111" stroke="#111" stroke-width="0.05"># Cases (Clinical Cohort)</text>
<line x1="404.3" y1="447.6" x2="404.3" y2="319.65" stroke="#555" stroke-width="0.9"/>
<line x1="398.10" y1="447.60" x2="404.3" y2="447.60" stroke="#555" stroke-width="0.9"/>
<line x1="398.10" y1="426.28" x2="404.3" y2="426.28" stroke="#555" stroke-width="0.9"/>
<line x1="398.10" y1="404.95" x2="404.3" y2="404.95" stroke="#555" stroke-width="0.9"/>
<line x1="398.10" y1="383.62" x2="404.3" y2="383.62" stroke="#555" stroke-width="0.9"/>
<line x1="398.10" y1="362.30" x2="404.3" y2="362.30" stroke="#555" stroke-width="0.9"/>
<line x1="398.10" y1="340.98" x2="404.3" y2="340.98" stroke="#555" stroke-width="0.9"/>
<line x1="398.10" y1="319.65" x2="404.3" y2="319.65" stroke="#555" stroke-width="0.9"/>
<text transform="translate(389.40 447.60) rotate(-90) scale(1 1.05)" font-size="8.2" text-anchor="middle" font-weight="normal" fill="#111" stroke="#111" stroke-width="0.05">0</text>
<text transform="translate(389.40 426.28) rotate(-90) scale(1 1.05)" font-size="8.2" text-anchor="middle" font-weight="normal" fill="#111" stroke="#111" stroke-width="0.05">500</text>
<text transform="translate(389.40 383.62) rotate(-90) scale(1 1.05)" font-size="8.2" text-anchor="middle" font-weight="normal" fill="#111" stroke="#111" stroke-width="0.05">1500</text>
<text transform="translate(389.40 340.98) rotate(-90) scale(1 1.05)" font-size="8.2" text-anchor="middle" font-weight="normal" fill="#111" stroke="#111" stroke-width="0.05">2500</text>
<rect x="414.50" y="306.40" width="6.32" height="141.20" fill="#fff" stroke="#3a3a3a" stroke-width="0.85"/>
<rect x="420.82" y="318.20" width="6.32" height="129.40" fill="#fff" stroke="#3a3a3a" stroke-width="0.85"/>
<rect x="427.15" y="368.00" width="6.32" height="79.60" fill="#fff" stroke="#3a3a3a" stroke-width="0.85"/>
<rect x="433.47" y="391.50" width="6.32" height="56.10" fill="#fff" stroke="#3a3a3a" stroke-width="0.85"/>
<rect x="439.80" y="410.25" width="6.32" height="37.35" fill="#fff" stroke="#3a3a3a" stroke-width="0.85"/>
<rect x="446.12" y="418.50" width="6.32" height="29.10" fill="#fff" stroke="#3a3a3a" stroke-width="0.85"/>
<rect x="452.44" y="426.00" width="6.32" height="21.60" fill="#fff" stroke="#3a3a3a" stroke-width="0.85"/>
<rect x="458.77" y="429.25" width="6.32" height="18.35" fill="#fff" stroke="#3a3a3a" stroke-width="0.85"/>
<rect x="465.09" y="434.30" width="6.32" height="13.30" fill="#fff" stroke="#3a3a3a" stroke-width="0.85"/>
<rect x="471.42" y="435.30" width="6.32" height="12.30" fill="#fff" stroke="#3a3a3a" stroke-width="0.85"/>
<rect x="477.74" y="436.70" width="6.32" height="10.90" fill="#fff" stroke="#3a3a3a" stroke-width="0.85"/>
<rect x="484.06" y="438.40" width="6.32" height="9.20" fill="#fff" stroke="#3a3a3a" stroke-width="0.85"/>
<rect x="490.39" y="439.50" width="6.32" height="8.10" fill="#fff" stroke="#3a3a3a" stroke-width="0.85"/>
<rect x="496.71" y="440.20" width="6.32" height="7.40" fill="#fff" stroke="#3a3a3a" stroke-width="0.85"/>
<rect x="503.04" y="440.20" width="6.32" height="7.40" fill="#fff" stroke="#3a3a3a" stroke-width="0.85"/>
<rect x="509.36" y="441.30" width="6.32" height="6.30" fill="#fff" stroke="#3a3a3a" stroke-width="0.85"/>
<rect x="515.68" y="440.40" width="6.32" height="7.20" fill="#fff" stroke="#3a3a3a" stroke-width="0.85"/>
<rect x="522.01" y="442.40" width="6.32" height="5.20" fill="#fff" stroke="#3a3a3a" stroke-width="0.85"/>
<rect x="528.33" y="441.40" width="6.32" height="6.20" fill="#fff" stroke="#3a3a3a" stroke-width="0.85"/>
<rect x="534.66" y="442.00" width="6.32" height="5.60" fill="#fff" stroke="#3a3a3a" stroke-width="0.85"/>
<rect x="540.98" y="442.90" width="6.32" height="4.70" fill="#fff" stroke="#3a3a3a" stroke-width="0.85"/>
<rect x="547.30" y="443.40" width="6.32" height="4.20" fill="#fff" stroke="#3a3a3a" stroke-width="0.85"/>
<rect x="553.63" y="443.60" width="6.32" height="4.00" fill="#fff" stroke="#3a3a3a" stroke-width="0.85"/>
<rect x="559.95" y="443.60" width="6.32" height="4.00" fill="#fff" stroke="#3a3a3a" stroke-width="0.85"/>
<rect x="566.28" y="443.00" width="6.32" height="4.60" fill="#fff" stroke="#3a3a3a" stroke-width="0.85"/>
<rect x="572.60" y="443.60" width="6.32" height="4.00" fill="#fff" stroke="#3a3a3a" stroke-width="0.85"/>
<rect x="578.92" y="444.20" width="6.32" height="3.40" fill="#fff" stroke="#3a3a3a" stroke-width="0.85"/>
<rect x="585.25" y="444.40" width="6.32" height="3.20" fill="#fff" stroke="#3a3a3a" stroke-width="0.85"/>
<rect x="591.57" y="444.40" width="6.32" height="3.20" fill="#fff" stroke="#3a3a3a" stroke-width="0.85"/>
<rect x="597.90" y="444.80" width="6.32" height="2.80" fill="#fff" stroke="#3a3a3a" stroke-width="0.85"/>
<rect x="604.22" y="444.20" width="6.32" height="3.40" fill="#fff" stroke="#3a3a3a" stroke-width="0.85"/>
<rect x="610.54" y="445.40" width="6.32" height="2.20" fill="#fff" stroke="#3a3a3a" stroke-width="0.85"/>
<rect x="616.87" y="445.20" width="6.32" height="2.40" fill="#fff" stroke="#3a3a3a" stroke-width="0.85"/>
<rect x="623.19" y="445.40" width="6.32" height="2.20" fill="#fff" stroke="#3a3a3a" stroke-width="0.85"/>
<rect x="629.52" y="445.70" width="6.32" height="1.90" fill="#fff" stroke="#3a3a3a" stroke-width="0.85"/>
<rect x="635.84" y="446.50" width="6.32" height="1.10" fill="#fff" stroke="#3a3a3a" stroke-width="0.85"/>
<rect x="642.16" y="446.80" width="6.32" height="0.80" fill="#fff" stroke="#3a3a3a" stroke-width="0.85"/>
<rect x="648.49" y="447.00" width="6.32" height="0.60" fill="#fff" stroke="#3a3a3a" stroke-width="0.85"/>
<rect x="654.81" y="447.20" width="6.32" height="0.40" fill="#fff" stroke="#3a3a3a" stroke-width="0.85"/>
<rect x="661.14" y="447.30" width="6.32" height="0.30" fill="#fff" stroke="#3a3a3a" stroke-width="0.85"/>
<rect x="667.46" y="447.30" width="6.32" height="0.30" fill="#fff" stroke="#3a3a3a" stroke-width="0.85"/>
<line x1="481.0" y1="301.0" x2="481.0" y2="453.2" stroke="#8cec84" stroke-width="1.2"/>
<line x1="520.2" y1="301.0" x2="520.2" y2="453.2" stroke="#8cec84" stroke-width="1.2"/>
<line x1="521.0" y1="301.0" x2="521.0" y2="453.2" stroke="#8cec84" stroke-width="1.2"/>
<line x1="421.8" y1="301.0" x2="421.8" y2="453.2" stroke="#3f79ab" stroke-width="2.1"/>
<line x1="473.4" y1="301.0" x2="473.4" y2="453.2" stroke="#3f79ab" stroke-width="2.2" stroke-linecap="round" stroke-dasharray="1.5 6.27" stroke-dashoffset="5.27"/>
<line x1="443.0" y1="308.0" x2="435.20" y2="308.0" stroke="#000" stroke-width="2.2"/>
<path d="M421.60,308.00 Q429.90,303.84 438.20,301.70 Q436.30,305.35 436.20,308.00 Q436.30,310.65 438.20,314.30 Q429.90,312.16 421.60,308.00 Z" fill="#000"/>
<line x1="443.5" y1="321.4" x2="459.10" y2="321.4" stroke="#000" stroke-width="2.0" stroke-dasharray="4.5 2.35"/>
<path d="M472.70,321.40 Q464.40,317.24 456.10,315.10 Q458.00,318.75 458.10,321.40 Q458.00,324.05 456.10,327.70 Q464.40,325.56 472.70,321.40 Z" fill="#000"/>
<line x1="443.0" y1="301.0" x2="443.0" y2="453.2" stroke="#ff2412" stroke-width="2.3"/>
<rect x="556.9" y="301.2" width="126.50" height="51.80" fill="#fff" stroke="#6a6a6a" stroke-width="0.95"/>
<text transform="translate(568.00 310.50) scale(1 1.13)" font-size="6.26" text-anchor="start" font-weight="normal" fill="#111" stroke="#111" stroke-width="0.05">Cases between OPOT and IPOT [n, (%)]</text>
<text transform="translate(568.00 325.30) scale(1 1.13)" font-size="6.26" text-anchor="start" font-weight="normal" fill="#4a82b4" stroke="#4a82b4" stroke-width="0.05">Inpatients</text>
<text transform="translate(606.00 325.30) scale(1 1.13)" font-size="6.26" text-anchor="start" font-weight="normal" fill="#4a82b4" stroke="#4a82b4" stroke-width="0.05">6825 (57.75%)</text>
<text transform="translate(568.00 332.70) scale(1 1.13)" font-size="6.26" text-anchor="start" font-weight="normal" fill="#4a82b4" stroke="#4a82b4" stroke-width="0.05">Outpatients</text>
<text transform="translate(605.30 332.70) scale(1 1.13)" font-size="6.26" text-anchor="start" font-weight="normal" fill="#4a82b4" stroke="#4a82b4" stroke-width="0.05">1788 (50.41%)</text>
<text transform="translate(568.00 347.80) scale(1 1.13)" font-size="6.26" text-anchor="start" font-weight="normal" fill="#ff1a1a" stroke="#ff1a1a" stroke-width="0.05">AI Developer's Threshold (AIDT)</text>
<line x1="532.9" y1="377.1" x2="544.7" y2="377.1" stroke="#b2c8dd" stroke-width="1.9"/>
<line x1="532.9" y1="384.6" x2="544.7" y2="384.6" stroke="#5a8cbc" stroke-width="1.1" stroke-dasharray="1.2 2.3" stroke-dashoffset="-0.3"/>
<line x1="532.9" y1="392.0" x2="544.7" y2="392.0" stroke="#b0f0a6" stroke-width="1.9"/>
<text transform="translate(550.00 379.50) scale(1 1.13)" font-size="6.26" text-anchor="start" font-weight="normal" fill="#222" stroke="#222" stroke-width="0.05">Outpatient-based Optimized Threshold (OPOT)</text>
<text transform="translate(550.00 386.90) scale(1 1.13)" font-size="6.26" text-anchor="start" font-weight="normal" fill="#222" stroke="#222" stroke-width="0.05">Inpatient-based Optimized Threshold (IPOT)</text>
<text transform="translate(550.00 394.40) scale(1 1.13)" font-size="6.26" text-anchor="start" font-weight="normal" fill="#222" stroke="#222" stroke-width="0.05">Youden-based optimized thresholds (RFS1-4)</text>
</svg>
</body></html>
